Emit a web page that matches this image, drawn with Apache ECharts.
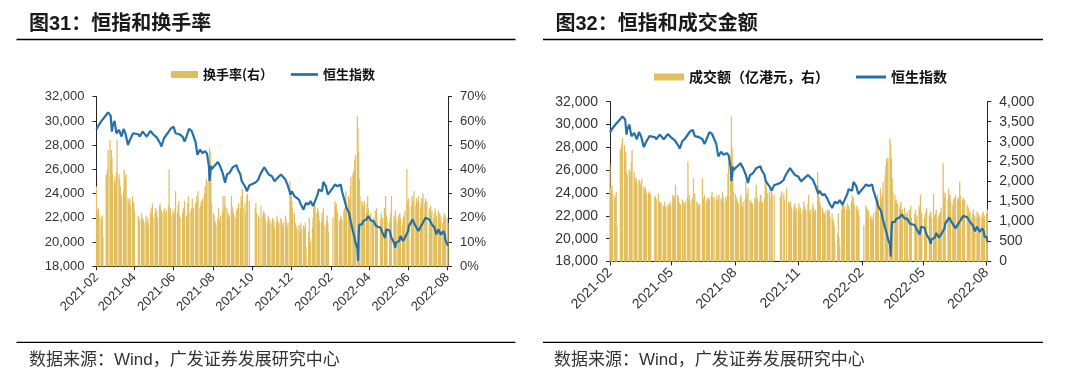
<!DOCTYPE html>
<html><head><meta charset="utf-8">
<script src="https://cdn.jsdelivr.net/npm/echarts@6/dist/echarts.min.js"></script>
<style>html,body{margin:0;padding:0;background:#fff;}#c{width:1080px;height:378px;}</style>
</head><body><div id="c"></div>
<script>
// ---------- DATA ----------
const leftTickLabels = ['2021-02','2021-04','2021-06','2021-08','2021-10','2021-12','2022-02','2022-04','2022-06','2022-08'];
const rightTickLabels = ['2021-02','2021-05','2021-08','2021-11','2022-02','2022-05','2022-08'];

const holidays = ['2021-02-12','2021-02-15','2021-04-02','2021-04-05','2021-04-06','2021-05-19','2021-06-14','2021-07-01','2021-09-22','2021-10-01','2021-10-13','2021-10-14','2021-12-27','2022-02-01','2022-02-02','2022-02-03','2022-04-05','2022-04-15','2022-04-18','2022-05-02','2022-05-09','2022-06-03','2022-07-01'];
const firstTradingDay = '2021-02-01';
const lastTradingDay = '2022-08-02';

// HSI turnover rate (%), one value per trading day, Feb 2021 - Dec 2021
const turnoverRate2021 = [
 33,23,22,24,21,20,19,21,12,38,36,40,48,52,44,48,45,38,
 35,37,33,39,52,38,36,33,30,29,31,40,37,36,38,28,26,27,28,25,29,27,26,
 23,21,20,19,22,18,20,19,18,21,19,18,20,17,22,24,21,26,20,
 22,24,21,23,20,25,26,24,23,22,23,24,22,23,25,40,22,24,21,23,
 22,21,24,31,22,25,27,21,20,22,24,23,27,21,20,26,29,22,23,24,28,
 24,26,25,29,27,31,24,25,27,26,28,30,33,29,36,35,43,49,47,36,26,
 22,21,19,18,17,20,24,19,18,21,23,29,22,25,29,24,20,22,19,21,29,25,
 24,22,21,20,23,24,22,26,24,29,27,32,24,26,22,29,30,27,null,null,null,
 null,null,24,26,22,21,20,25,21,23,20,22,19,18,21,20,17,19,
 18,20,17,19,16,18,21,19,17,18,20,19,17,16,18,21,19,17,16,18,35,31,
 29,27,24,22,18,17,16,15,17,14,16,18,15,17,14,16,18,8,14,20,12,10
];
// Jan 2022 - Aug 2022
const turnoverRate2022 = [
 16,20,24,27,25,22,24,23,21,19,18,22,20,24,17,16,19,21,18,14,null,
 20,27,25,26,24,22,19,18,21,20,19,23,24,21,31,26,29,
 25,28,33,37,38,39,40,44,46,62,57,47,36,29,27,26,25,24,27,22,26,29,24,
 21,22,19,18,20,23,21,24,18,19,22,17,20,24,22,29,21,19,
 18,20,22,29,21,19,23,20,18,21,19,22,20,17,19,21,20,23,40,27,
 26,28,25,29,27,26,31,25,28,26,27,29,24,26,28,27,30,26,28,25,27,
 24,22,25,21,23,20,22,24,19,21,23,20,22,19,21,18,20,22,19,21,
 20,18
];
// Turnover (亿港元), Feb 2021 - Dec 2021
const turnoverValue2021 = [
 2420,1850,1780,1900,1700,1650,1600,1750,900,2830,2700,2950,3090,2920,2580,2750,2250,2170,
 2300,2250,2100,2500,2790,2250,2100,2000,2080,1950,2050,2000,1900,1960,2080,1870,1800,1850,1790,1700,1750,1680,1720,
 1670,1640,1600,1550,1700,1450,1500,1420,1480,1400,1350,1500,1330,1380,1450,1400,1350,1500,1420,
 1670,1600,1650,1550,1920,1670,1600,1500,1450,1420,1550,1500,1450,1500,1600,2500,1550,1670,1500,1550,
 1600,2080,1550,1700,1500,1450,1400,1380,1450,2080,1600,1550,1670,1500,1550,1600,1520,1580,1650,1750,1600,
 1600,1550,1650,1500,1550,1670,1580,1500,1750,1620,1500,1600,1550,1650,2200,2500,2660,3625,2840,2500,1750,
 1700,1600,1550,1500,1450,1600,1670,1400,1330,1500,1550,2000,1600,1700,1830,1550,1450,1500,1400,1450,1600,1550,
 1920,1600,1550,1500,1650,1670,1450,1500,1600,2170,2000,1830,1700,1750,1600,1750,1700,1650,null,null,null,
 null,null,1600,1670,1750,1700,1550,1830,1500,1450,1400,1500,1350,1300,1400,1450,1250,1350,
 1300,1450,1250,1350,1200,1300,1500,1400,1250,1300,1450,1670,1250,1170,1300,1450,1350,1250,1200,1300,2250,1900,
 1600,1500,1400,1350,1250,1200,1170,1250,1300,1170,1250,1300,1100,1200,1000,1050,900,450,700,1200,600,400
];
// Jan 2022 - Aug 2022
const turnoverValue2022 = [
 1300,1450,1500,1400,1350,1300,1450,1250,1400,1300,1500,1670,1450,1600,1420,1350,1400,1250,1300,1150,null,
 900,1400,1350,1300,1290,1250,1150,1050,1100,1000,1200,1250,1500,1420,1670,1550,1830,
 1500,1600,1700,2000,2170,2400,2580,2500,2600,3080,2920,2580,2080,1750,1670,1500,1550,1420,1450,1350,1400,1500,1300,
 1300,1350,1200,1150,1250,1300,1250,1400,1100,1200,1300,1050,1150,1400,1300,1670,1250,1200,
 1100,1200,1250,1330,1150,1200,1250,1100,1700,1150,1080,1200,1300,1100,1150,1200,1250,1350,2460,1750,
 1600,1700,1550,1830,1650,1670,1500,1420,1550,1600,1500,1670,1550,1600,1500,2000,1650,1550,1600,1500,1550,
 1420,1300,1350,1200,1250,1100,1200,1300,1080,1150,1250,1100,1200,1080,1150,1100,1200,1250,1100,1150,
 1200,1300
];

// Hang Seng Index
const hsiDates = [
 '2021-02-01','2021-02-03','2021-02-08','2021-02-16','2021-02-19','2021-02-23','2021-02-25','2021-02-26',
 '2021-03-01','2021-03-04','2021-03-08','2021-03-12','2021-03-15','2021-03-18','2021-03-22','2021-03-25','2021-03-30',
 '2021-04-07','2021-04-09','2021-04-14','2021-04-20','2021-04-26','2021-04-30',
 '2021-05-06','2021-05-11','2021-05-13','2021-05-17','2021-05-20','2021-05-28',
 '2021-06-01','2021-06-04','2021-06-10','2021-06-15','2021-06-18','2021-06-21','2021-06-25','2021-06-29',
 '2021-07-05','2021-07-08','2021-07-12','2021-07-16','2021-07-20','2021-07-22','2021-07-23','2021-07-26','2021-07-27','2021-07-28','2021-07-29','2021-07-30',
 '2021-08-03','2021-08-06','2021-08-09','2021-08-13','2021-08-17','2021-08-20','2021-08-23','2021-08-27',
 '2021-09-01','2021-09-07','2021-09-09','2021-09-13','2021-09-15','2021-09-20','2021-09-23','2021-09-27','2021-09-30',
 '2021-10-06','2021-10-11','2021-10-12','2021-10-15','2021-10-20','2021-10-22','2021-10-27',
 '2021-11-01','2021-11-05','2021-11-10','2021-11-15','2021-11-17','2021-11-22','2021-11-26','2021-11-30',
 '2021-12-02','2021-12-06','2021-12-09','2021-12-13','2021-12-16','2021-12-20','2021-12-24','2021-12-28','2021-12-31',
 '2022-01-04','2022-01-07','2022-01-11','2022-01-13','2022-01-18','2022-01-20','2022-01-24','2022-01-27','2022-01-28',
 '2022-02-04','2022-02-07','2022-02-09','2022-02-11','2022-02-16','2022-02-18','2022-02-22','2022-02-25',
 '2022-03-01','2022-03-04','2022-03-07','2022-03-09','2022-03-10','2022-03-11','2022-03-14','2022-03-15','2022-03-16','2022-03-17','2022-03-18','2022-03-21','2022-03-23','2022-03-28','2022-03-31',
 '2022-04-04','2022-04-08','2022-04-12','2022-04-14','2022-04-19','2022-04-22','2022-04-26','2022-04-28',
 '2022-05-03','2022-05-06','2022-05-10','2022-05-12','2022-05-13','2022-05-18','2022-05-20','2022-05-24','2022-05-27',
 '2022-06-01','2022-06-02','2022-06-08','2022-06-10','2022-06-14','2022-06-17','2022-06-21','2022-06-24','2022-06-28',
 '2022-07-04','2022-07-05','2022-07-08','2022-07-12','2022-07-15','2022-07-18','2022-07-20','2022-07-22','2022-07-26','2022-07-28','2022-07-29',
 '2022-08-01','2022-08-02'
];
const hsiValues = [
 29300,29540,29940,30490,30710,30440,29120,29540,
 30000,28980,29260,28710,29340,28980,28020,28430,28980,
 28900,28710,29120,28710,29170,28900,
 28620,28160,27890,28570,28710,29390,
 29530,28980,28900,28710,28300,28710,29340,29170,
 28300,27210,27620,27340,27500,27600,27300,26200,25050,25500,26300,26000,
 26260,26400,26620,26180,25580,24890,25580,25710,
 26180,26350,25990,25580,25020,24610,24200,24690,24750,
 24890,25160,25350,25710,26180,26120,25580,
 25440,25020,25300,25580,25710,25160,24610,23920,
 24200,23790,23920,23510,23100,22690,23240,23100,23380,
 22970,23380,23920,24340,24200,24970,24610,23920,23800,
 24500,24750,24890,24610,24750,24200,23440,22830,
 22420,21590,20910,20500,20400,19950,19500,18440,20600,21450,21590,21460,21730,21870,22140,
 21780,21730,21320,21460,21180,20770,20360,21050,
 20960,20360,19950,19540,19950,20090,20500,20090,20360,
 20910,21320,21870,21590,21180,20910,21320,21590,22000,
 21870,21730,21460,21180,20640,21050,20890,20610,20900,20620,20160,
 20170,19690
];

// ---------- helpers ----------
const BASE = Date.UTC(2021, 1, 1);
function dayNum(s) { const p = s.split('-').map(Number); return (Date.UTC(p[0], p[1] - 1, p[2] || 1) - BASE) / 86400000; }
function tradingDays(from, to) {
  const hol = new Set(holidays.map(dayNum));
  const out = [];
  for (let d = dayNum(from); d <= dayNum(to); d++) {
    const wd = new Date(BASE + d * 86400000).getUTCDay();
    if (wd === 0 || wd === 6 || hol.has(d)) continue;
    out.push(d);
  }
  return out;
}
function fmtMonth(v) {
  const dt = new Date(BASE + Math.round(v) * 86400000);
  return dt.getUTCFullYear() + '-' + String(dt.getUTCMonth() + 1).padStart(2, '0');
}
const days = tradingDays(firstTradingDay, lastTradingDay);
const rateAll = turnoverRate2021.concat(turnoverRate2022);
const valueAll = turnoverValue2021.concat(turnoverValue2022);
const rateData = days.map((d, i) => [d, rateAll[i] == null ? null : rateAll[i]]);
const valueData = days.map((d, i) => [d, valueAll[i] == null ? null : valueAll[i]]);
const hsiData = hsiDates.map((s, i) => [dayNum(s), hsiValues[i]]);
const leftTicks = leftTickLabels.map(s => dayNum(s + '-01'));
const rightTicks = rightTickLabels.map(s => dayNum(s + '-01'));
const xMax = dayNum(lastTradingDay);

// ---------- style ----------
const BAR = '#E2BE5C';
const LINE = '#2670AA';
const AX = '#222';
const LAB = '#333';
const NUM_FONT = 'Liberation Sans';
const CJK = '"Noto Sans CJK SC"';
const comma = v => Number(v).toLocaleString('en-US');

function xAxisCfg(grid, ticks, fs) {
  return {
    gridIndex: grid, type: 'value', min: 0, max: xMax,
    axisLine: { show: true, onZero: false, lineStyle: { color: AX, width: 1 } },
    axisTick: { show: true, length: 4, customValues: ticks, lineStyle: { color: AX } },
    axisLabel: { customValues: ticks, rotate: 45, margin: 9, fontSize: fs, color: LAB, fontFamily: NUM_FONT, formatter: fmtMonth },
    splitLine: { show: false }
  };
}
function yAxisCfg(grid, pos, min, max, interval, fs, fmt) {
  return {
    gridIndex: grid, type: 'value', position: pos, min: min, max: max, interval: interval,
    axisLine: { show: true, lineStyle: { color: AX, width: 1 } },
    axisTick: { show: true, length: 4, lineStyle: { color: AX } },
    axisLabel: { margin: 12, fontSize: fs, color: LAB, fontFamily: NUM_FONT, formatter: fmt },
    splitLine: { show: false }
  };
}

const lineIcon = 'path://M0 0H30V3H0Z';
const chart = echarts.init(document.getElementById('c'), null, { renderer: 'canvas' });
chart.setOption({
  animation: false,
  backgroundColor: '#fff',
  grid: [
    { left: 96.5, top: 96.7, width: 351.5, height: 169.6 },
    { left: 610, top: 101.7, width: 377.3, height: 159.8 }
  ],
  legend: [
    { left: 166, top: 63, itemWidth: 27, itemHeight: 7, itemGap: 18, selectedMode: false,
      textStyle: { fontSize: 13, fontFamily: CJK, fontWeight: 'bold', color: '#111' },
      data: [ { name: '换手率(右）', icon: 'rect' }, { name: '恒生指数', icon: lineIcon, itemStyle: { color: LINE } } ] },
    { left: 649, top: 65, itemWidth: 30, itemHeight: 7, itemGap: 27, selectedMode: false,
      textStyle: { fontSize: 14, fontFamily: CJK, fontWeight: 'bold', color: '#111' },
      data: [ { name: '成交额（亿港元，右）', icon: 'rect' }, { name: '恒生指数', icon: lineIcon, itemStyle: { color: LINE } } ] }
  ],
  xAxis: [ xAxisCfg(0, leftTicks, 13), xAxisCfg(1, rightTicks, 14) ],
  yAxis: [
    yAxisCfg(0, 'left', 18000, 32000, 2000, 13, comma),
    yAxisCfg(0, 'right', 0, 70, 10, 13, v => v + '%'),
    yAxisCfg(1, 'left', 18000, 32000, 2000, 14, comma),
    yAxisCfg(1, 'right', 0, 4000, 500, 14, comma)
  ],
  series: [
    { name: '换手率(右）', type: 'bar', xAxisIndex: 0, yAxisIndex: 1, data: rateData, barWidth: 1.25, itemStyle: { color: BAR }, z: 1 },
    { name: '恒生指数', type: 'line', xAxisIndex: 0, yAxisIndex: 0, data: hsiData, showSymbol: false, lineStyle: { color: LINE, width: 2.2 }, itemStyle: { color: LINE }, z: 3 },
    { name: '成交额（亿港元，右）', type: 'bar', xAxisIndex: 1, yAxisIndex: 3, data: valueData, barWidth: 1.25, itemStyle: { color: BAR }, z: 1 },
    { name: '恒生指数', type: 'line', xAxisIndex: 1, yAxisIndex: 2, data: hsiData, showSymbol: false, lineStyle: { color: LINE, width: 2.2 }, itemStyle: { color: LINE }, z: 3 }
  ],
  graphic: [
    { type: 'text', x: 29, y: 24, style: { text: '图31：恒指和换手率', font: 'bold 20px "Liberation Sans", "Noto Sans CJK SC"', fill: '#1a1a1a', verticalAlign: 'middle', align: 'left' } },
    { type: 'text', x: 555.5, y: 24, style: { text: '图32：恒指和成交金额', font: 'bold 20px "Liberation Sans", "Noto Sans CJK SC"', fill: '#1a1a1a', verticalAlign: 'middle', align: 'left' } },
    { type: 'line', shape: { x1: 16.5, y1: 39.5, x2: 515.5, y2: 39.5 }, style: { stroke: '#000', lineWidth: 1.5 } },
    { type: 'line', shape: { x1: 543, y1: 39.5, x2: 1043, y2: 39.5 }, style: { stroke: '#000', lineWidth: 1.5 } },
    { type: 'line', shape: { x1: 16.5, y1: 342.3, x2: 515.5, y2: 342.3 }, style: { stroke: '#000', lineWidth: 1.3 } },
    { type: 'line', shape: { x1: 543, y1: 342.3, x2: 1043, y2: 342.3 }, style: { stroke: '#000', lineWidth: 1.3 } },
    { type: 'text', x: 29, y: 360, style: { text: '数据来源：Wind，广发证券发展研究中心', font: '17px "Liberation Sans", "Noto Sans CJK SC"', fill: '#333', verticalAlign: 'middle', align: 'left' } },
    { type: 'text', x: 554, y: 360, style: { text: '数据来源：Wind，广发证券发展研究中心', font: '17px "Liberation Sans", "Noto Sans CJK SC"', fill: '#333', verticalAlign: 'middle', align: 'left' } }
  ]
});
</script></body></html>
